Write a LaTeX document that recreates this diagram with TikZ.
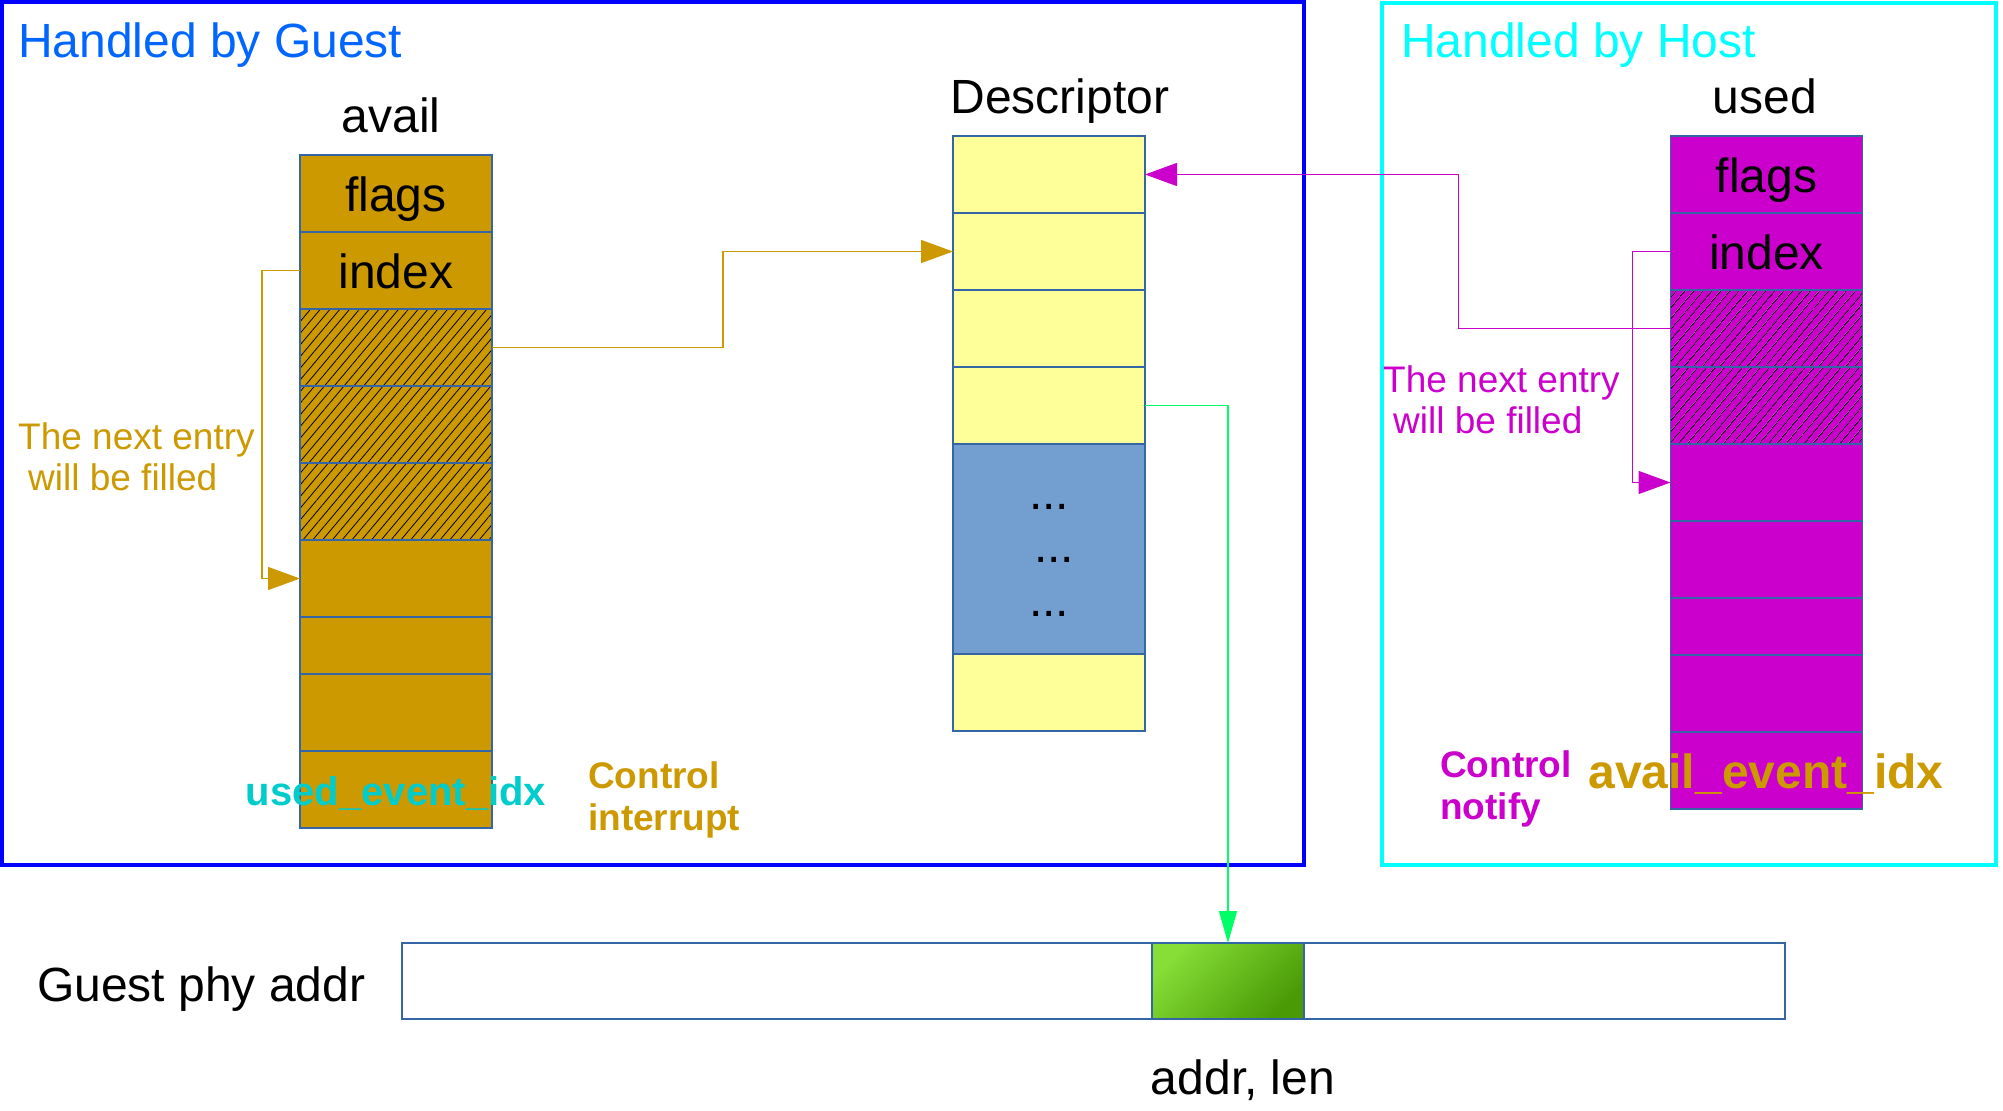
\documentclass[tikz,border=0pt]{standalone}
\usepackage{fontspec}
\setmainfont{Liberation Sans}
\usetikzlibrary{arrows.meta,patterns.meta}
\definecolor{gold}{HTML}{CC9900}
\definecolor{mag}{HTML}{CC00CC}
\definecolor{yel}{HTML}{FFFF99}
\definecolor{bluecell}{HTML}{729FCF}
\definecolor{cellline}{HTML}{3465A4}
\definecolor{guestblue}{HTML}{0000FF}
\definecolor{hostcyan}{HTML}{00FFFF}
\definecolor{titleblue}{HTML}{0066FF}
\definecolor{darkcyan}{HTML}{00CCCC}
\definecolor{arrowgreen}{HTML}{00FF66}
\definecolor{gl}{HTML}{86DE36}
\definecolor{gd}{HTML}{4A9A06}
\begin{document}
\begin{tikzpicture}[x=1pt,y=-1pt,
  cell/.style={draw=cellline, line width=1.3pt, minimum width=192pt, minimum height=77pt,
    inner sep=0pt, outer sep=0pt, text height=35pt, text depth=0pt, font=\fontsize{48}{56}\selectfont},
  short/.style={minimum height=57pt},
  availcell/.style={cell, fill=gold},
  usedcell/.style={cell, fill=mag},
  desccell/.style={cell, fill=yel},
  hatchgold/.style={cell, preaction={fill=gold}, pattern={Lines[angle=50,distance=7.5pt,line width=0.8pt]}, pattern color=black},
  hatchmag/.style={cell, preaction={fill=mag}, pattern={Lines[angle=50,distance=6.5pt,line width=0.8pt]}, pattern color=black},
  big/.style={inner sep=0pt, text depth=0pt, font=\fontsize{48}{56}\selectfont},
  note/.style={inner sep=0pt, align=left, font=\fontsize{37}{41}\selectfont},
  boldnote/.style={inner sep=0pt, align=left, font=\fontsize{37}{42}\selectfont\bfseries},
  goldarrow/.style={draw=gold, line width=1.3pt, -{Triangle[length=32pt,width=23pt,fill=gold]}},
  magarrow/.style={draw=mag, line width=1.3pt, -{Triangle[length=32pt,width=23pt,fill=mag]}},
  greenarrow/.style={draw=arrowgreen, line width=1.3pt, -{Triangle[length=32pt,width=18pt,fill=arrowgreen]}},
]
\useasboundingbox (0,0) rectangle (2003,1111);

% frames
\draw[guestblue, line width=4pt] (2,2) rectangle (1304,865);
\draw[hostcyan, line width=4pt] (1382,3) rectangle (1996,865);
\node[big, text=titleblue, anchor=west] (tguest) at (18,40) {Handled by Guest};
\node[big, text=hostcyan, anchor=west] (thost) at (1401,40) {Handled by Host};

% avail column
\node[big] (lavail) at (391,115) {avail};
\node[availcell] (a1) at (396,193.5) {flags};
\node[availcell] (a2) at (396,270.5) {index};
\node[hatchgold] (a3) at (396,347.5) {};
\node[hatchgold] (a4) at (396,424.5) {};
\node[hatchgold] (a5) at (396,501.5) {};
\node[availcell] (a6) at (396,578.5) {};
\node[availcell, short] (a7) at (396,645.5) {};
\node[availcell] (a8) at (396,712.5) {};
\node[availcell] (a9) at (396,789.5) {};

% descriptor column
\node[big] (ldesc) at (1060,96) {Descriptor};
\node[desccell] (d1) at (1049,174.5) {};
\node[desccell] (d2) at (1049,251.5) {};
\node[desccell] (d3) at (1049,328.5) {};
\node[desccell] (d4) at (1049,405.5) {};
\node[cell, fill=bluecell, minimum height=210pt] (d5) at (1049,549) {};
\node[desccell] (d6) at (1049,692.5) {};
\node[inner sep=0pt, align=center, font=\fontsize{48}{53.5}\selectfont] (dots) at (1049,560) {...\\\hspace*{10pt}...\\...};

% used column
\node[big] (lused) at (1765,96) {used};
\node[usedcell] (u1) at (1766.5,174.5) {flags};
\node[usedcell] (u2) at (1766.5,251.5) {index};
\node[hatchmag] (u3) at (1766.5,328.5) {};
\node[hatchmag] (u4) at (1766.5,405.5) {};
\node[usedcell] (u5) at (1766.5,482.5) {};
\node[usedcell] (u6) at (1766.5,559.5) {};
\node[usedcell, short] (u7) at (1766.5,626.5) {};
\node[usedcell] (u8) at (1766.5,693.5) {};
\node[usedcell] (u9) at (1766.5,770.5) {};

% notes
\node[note, text=gold, anchor=west] (nguest) at (18,457) {The next entry\\\hspace*{10pt}will be filled};
\node[note, text=mag, anchor=west] (nhost) at (1383,400) {The next entry\\\hspace*{10pt}will be filled};
\node[inner sep=0pt, font=\fontsize{40}{48}\selectfont\bfseries, text=darkcyan] (uei) at (396,793) {used\_event\_idx};
\node[boldnote, text=gold, anchor=west] (cint) at (588,800) {Control\\interrupt};
\node[boldnote, text=mag, anchor=west] (cnot) at (1440,789) {Control\\notify};
\node[inner sep=0pt, font=\fontsize{48}{56}\selectfont\bfseries, text=gold] (aei) at (1766,774) {avail\_event\_idx};

% guest physical address bar
\node[big, anchor=west] (lgpa) at (37,984) {Guest phy addr};
\node[draw=cellline, line width=1.3pt, minimum width=1383pt, minimum height=76pt, inner sep=0pt, outer sep=0pt] (bar) at (1093.5,981) {};
\node[draw=cellline, line width=1.3pt, minimum width=152pt, minimum height=76pt, inner sep=0pt, outer sep=0pt,
  top color=gl, bottom color=gd, shading angle=45] (green) at (1228,981) {};
\node[big] (laddr) at (1243,1077) {addr, len};

% connectors
\draw[goldarrow] (a2.west) -- ++(-38,0) |- (a6.west);
\draw[goldarrow] (a3.east) -- ++(231,0) |- (d2.west);
\draw[magarrow] (u3.west) -- ++(-212,0) |- (d1.east);
\draw[magarrow] (u2.west) -- ++(-38,0) |- (u5.west);
\draw[greenarrow] (d4.east) -| (green.north);
\end{tikzpicture}
\end{document}
